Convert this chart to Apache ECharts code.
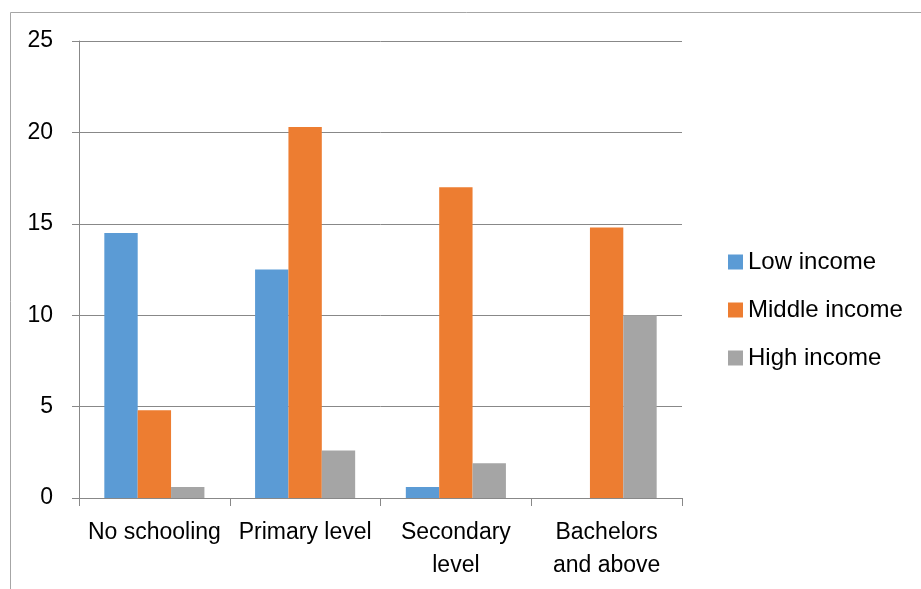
<!DOCTYPE html>
<html>
<head>
<meta charset="utf-8">
<script src="https://cdn.jsdelivr.net/npm/echarts@6/dist/echarts.min.js"></script>
<style>
  html, body { margin: 0; padding: 0; background: #fff; }
  #chart { width: 921px; height: 589px; }
</style>
</head>
<body>
<div id="chart"></div>
<script>
  const categories = ['No schooling', 'Primary level', 'Secondary\nlevel', 'Bachelors\nand above'];
  const lowIncome = [14.5, 12.5, 0.6, 0];
  const middleIncome = [4.8, 20.3, 17.0, 14.8];
  const highIncome = [0.6, 2.6, 1.9, 10.0];
  const yTicks = [0, 5, 10, 15, 20, 25];

  const font = 'Liberation Sans';
  const chart = echarts.init(document.getElementById('chart'));

  chart.setOption({
    animation: false,
    color: ['#5b9bd5', '#ed7d31', '#a5a5a5'],
    graphic: [
      {
        type: 'rect',
        shape: { x: 10.5, y: 12.5, width: 1000, height: 700 },
        style: { fill: 'none', stroke: '#a6a6a6', lineWidth: 1 },
        silent: true,
      },
    ],
    grid: {
      left: 79,
      right: 239,
      top: 41,
      bottom: 91,
    },
    legend: {
      orient: 'vertical',
      left: 723,
      top: 245,
      itemWidth: 15,
      itemHeight: 15,
      itemGap: 24,
      icon: 'rect',
      textStyle: { fontFamily: font, fontSize: 24, color: '#000', lineHeight: 24 },
      data: ['Low income', 'Middle income', 'High income'],
    },
    xAxis: {
      type: 'category',
      data: categories,
      axisLine: { lineStyle: { color: '#888', width: 1 } },
      axisTick: { show: true, length: 8, lineStyle: { color: '#888' } },
      axisLabel: {
        margin: 18,
        fontFamily: font,
        fontSize: 23,
        lineHeight: 33,
        color: '#000',
        interval: 0,
      },
    },
    yAxis: {
      type: 'value',
      min: yTicks[0],
      max: yTicks[yTicks.length - 1],
      interval: 5,
      axisLine: { show: true, lineStyle: { color: '#888', width: 1 } },
      axisTick: { show: true, length: 7, lineStyle: { color: '#888' } },
      axisLabel: { margin: 26, fontFamily: font, fontSize: 23, color: '#000' },
      splitLine: { lineStyle: { color: '#888', width: 1 } },
    },
    series: [
      { name: 'Low income', type: 'bar', data: lowIncome, barGap: '0%', barCategoryGap: '33.6%' },
      { name: 'Middle income', type: 'bar', data: middleIncome, barGap: '0%', barCategoryGap: '33.6%' },
      { name: 'High income', type: 'bar', data: highIncome, barGap: '0%', barCategoryGap: '33.6%' },
    ],
  });
</script>
</body>
</html>
